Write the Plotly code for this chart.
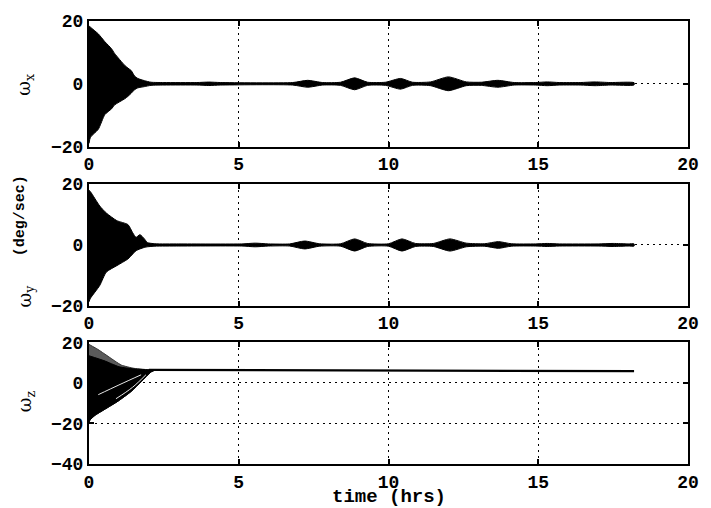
import plotly.graph_objects as go

# ---------------------------------------------------------------
# Body rates after release, in deg/sec, against time in hours
# ---------------------------------------------------------------
X_TICKS = [0, 5, 10, 15, 20]
Y_TICKS_XY = [-20, 0, 20]
Y_TICKS_Z = [-40, -20, 0, 20]

# omega_x: envelope of the fast oscillation during the initial transient
wx_tr_t = [0.00, 0.05, 0.31, 0.53, 0.75, 0.86, 1.19, 1.30, 1.41, 1.52, 1.63, 1.85, 2.07]
wx_tr_hi = [18.5, 18.0, 15.9, 13.4, 11.2, 9.6, 5.9, 5.0, 4.2, 2.5, 1.7, 1.0, 0.5]
wx_tr_lo = [-19.0, -17.0, -14.5, -9.8, -8.0, -6.7, -4.8, -4.0, -3.0, -1.9, -1.3, -0.9, -0.5]
# omega_x: envelope amplitude (symmetric) of the later beats
wx_ss_t = [2.5, 3.6, 4.0, 4.4, 6.8, 7.3, 7.8, 8.4, 8.87, 9.3, 9.9, 10.4, 10.8,
           11.4, 12.0, 12.6, 13.1, 13.65, 14.2, 14.9, 15.3, 15.7, 16.4, 16.9,
           17.4, 18.2]
wx_ss_amp = [0.4, 0.4, 0.55, 0.4, 0.4, 1.1, 0.4, 0.5, 1.9, 0.5, 0.5, 1.7, 0.5,
             0.6, 2.2, 0.6, 0.5, 1.1, 0.4, 0.4, 0.6, 0.4, 0.4, 0.6, 0.4, 0.35]

# omega_y: transient envelope
wy_tr_t = [0.00, 0.05, 0.36, 0.58, 0.93, 1.30, 1.46, 1.57, 1.70, 1.85, 1.95, 2.20]
wy_tr_hi = [18.0, 17.5, 12.8, 10.5, 8.0, 6.7, 4.0, 2.5, 3.4, 2.0, 0.8, 0.4]
wy_tr_lo = [-18.7, -17.5, -13.3, -8.9, -6.8, -4.6, -3.0, -1.9, -1.3, -0.8, -0.6, -0.4]
# omega_y: later beats
wy_ss_t = [3.0, 5.1, 5.55, 6.0, 6.7, 7.2, 7.7, 8.4, 8.87, 9.3, 10.0, 10.45,
           10.9, 11.5, 12.05, 12.6, 13.2, 13.67, 14.1, 14.9, 15.3, 15.7, 17.0,
           17.5, 18.0, 18.2]
wy_ss_amp = [0.35, 0.35, 0.6, 0.35, 0.35, 1.3, 0.4, 0.4, 2.0, 0.5, 0.4, 2.0,
             0.5, 0.5, 2.0, 0.6, 0.4, 1.1, 0.4, 0.35, 0.5, 0.35, 0.35, 0.5,
             0.35, 0.35]

# omega_z: spread of the converging trajectories (sparse outer band, dense core)
wz_outer_t = [0.00, 0.30, 0.60, 1.08, 1.50, 2.07]
wz_outer_hi = [19.0, 16.5, 13.5, 8.8, 7.2, 6.4]
wz_core_t = [0.00, 0.50, 1.00, 1.50, 2.07]
wz_core_hi = [13.4, 11.0, 8.0, 6.9, 6.4]
wz_lo_t = [0.00, 0.03, 0.20, 0.53, 0.97, 1.41, 1.74, 2.07, 2.20]
wz_lo = [-20.0, -18.4, -16.0, -13.0, -9.0, -4.2, 0.6, 5.4, 6.3]
# light gaps between individual trajectories inside the core
wz_gap1_t = [0.31, 1.00, 1.74]
wz_gap1 = [-5.8, -1.0, 4.0]
wz_gap2_t = [0.90, 1.45, 1.90]
wz_gap2 = [-7.8, -2.2, 4.0]
# omega_z: settled spin rate
wz_ss_t = [2.0, 6.0, 10.0, 14.0, 18.2]
wz_ss = [6.4, 6.2, 6.1, 5.9, 5.8]

MONO = "Liberation Mono"

# plot-area geometry in page pixels
LEFT, RIGHT, TOP, BOTTOM = 89, 693, 16, 464
W_PLOT, H_PLOT = RIGHT - LEFT, BOTTOM - TOP


def px_x(px):
    return (px - LEFT) / W_PLOT


def px_y(py):
    return (BOTTOM - py) / H_PLOT


def envelope(tr_t, tr_hi, tr_lo, ss_t, ss_amp):
    """Closed outline: upper edge forward in time, lower edge back."""
    xs = list(tr_t) + list(ss_t) + list(reversed(ss_t)) + list(reversed(tr_t))
    ys = (list(tr_hi) + list(ss_amp)
          + [-a for a in reversed(ss_amp)] + list(reversed(tr_lo)))
    return xs, ys


def band(up_t, up, lo_t, lo):
    return list(up_t) + list(reversed(lo_t)), list(up) + list(reversed(lo))


fig = go.Figure()

# omega_x
ex, ey = envelope(wx_tr_t, wx_tr_hi, wx_tr_lo, wx_ss_t, wx_ss_amp)
fig.add_trace(go.Scatter(x=ex, y=ey, mode="lines", fill="toself",
                         fillcolor="black",
                         line=dict(color="black", width=1, shape="spline",
                                   smoothing=0.6),
                         hoverinfo="skip", xaxis="x", yaxis="y"))

# omega_y
ex, ey = envelope(wy_tr_t, wy_tr_hi, wy_tr_lo, wy_ss_t, wy_ss_amp)
fig.add_trace(go.Scatter(x=ex, y=ey, mode="lines", fill="toself",
                         fillcolor="black",
                         line=dict(color="black", width=1, shape="spline",
                                   smoothing=0.6),
                         hoverinfo="skip", xaxis="x2", yaxis="y2"))

# omega_z
bx, by = band(wz_outer_t, wz_outer_hi, wz_lo_t, wz_lo)
fig.add_trace(go.Scatter(x=bx, y=by, mode="lines", fill="toself",
                         fillcolor="#5a5a5a",
                         line=dict(color="#333333", width=1, shape="spline",
                                   smoothing=0.5),
                         hoverinfo="skip", xaxis="x3", yaxis="y3"))
bx, by = band(wz_core_t, wz_core_hi, wz_lo_t, wz_lo)
fig.add_trace(go.Scatter(x=bx, y=by, mode="lines", fill="toself",
                         fillcolor="black",
                         line=dict(color="black", width=1, shape="spline",
                                   smoothing=0.5),
                         hoverinfo="skip", xaxis="x3", yaxis="y3"))
for gt, gv in ((wz_gap1_t, wz_gap1), (wz_gap2_t, wz_gap2)):
    fig.add_trace(go.Scatter(x=gt, y=gv, mode="lines",
                             line=dict(color="#e8e8e8", width=1, shape="spline"),
                             hoverinfo="skip", xaxis="x3", yaxis="y3"))
fig.add_trace(go.Scatter(x=wz_ss_t, y=wz_ss, mode="lines",
                         line=dict(color="black", width=2.2),
                         hoverinfo="skip", xaxis="x3", yaxis="y3"))

tick_font = dict(family=MONO, size=18, color="black", weight="bold")
common = dict(showline=True, linecolor="black", linewidth=2, mirror="allticks",
              ticks="inside", ticklen=5, tickwidth=2, tickcolor="black",
              showgrid=True, gridcolor="black", gridwidth=1,
              griddash="2px,4px", zeroline=False, tickfont=tick_font,
              fixedrange=True)

xax = dict(range=[0, 20], tickvals=X_TICKS, domain=[0, 1], **common)
fig.update_layout(
    width=711, height=508,
    margin=dict(l=LEFT, r=711 - RIGHT, t=TOP, b=508 - BOTTOM),
    paper_bgcolor="white", plot_bgcolor="white",
    showlegend=False,
    xaxis=dict(anchor="y", **xax),
    xaxis2=dict(anchor="y2", **xax),
    xaxis3=dict(anchor="y3", **xax),
    yaxis=dict(anchor="x", domain=[px_y(143), 1.0], range=[-20, 20],
               tickvals=Y_TICKS_XY, **common),
    yaxis2=dict(anchor="x2", domain=[px_y(304), px_y(181)], range=[-20, 20],
                tickvals=Y_TICKS_XY, **common),
    yaxis3=dict(anchor="x3", domain=[0.0, px_y(341)], range=[-40, 20],
                tickvals=Y_TICKS_Z, **common),
)

label_font = dict(family=MONO, size=15, color="black", weight="bold")
omega_font = dict(family="DejaVu Serif", size=18, color="black")

annotations = [
    dict(text="ω<sub>x</sub>", x=px_x(25), y=px_y(81), font=omega_font),
    dict(text="ω<sub>y</sub>", x=px_x(25), y=px_y(294), font=omega_font),
    dict(text="(deg/sec)", x=px_x(20), y=px_y(213), font=label_font),
    dict(text="ω<sub>z</sub>", x=px_x(25), y=px_y(401), font=omega_font),
]
for a in annotations:
    a.update(xref="paper", yref="paper", textangle=-90, showarrow=False,
             xanchor="center", yanchor="middle")
annotations.append(dict(text="time (hrs)", x=0.5, y=px_y(497), xref="paper",
                        yref="paper", showarrow=False, xanchor="center",
                        yanchor="middle",
                        font=dict(family=MONO, size=19, color="black",
                                  weight="bold")))
fig.update_layout(annotations=annotations)

fig.write_html("out.html")
